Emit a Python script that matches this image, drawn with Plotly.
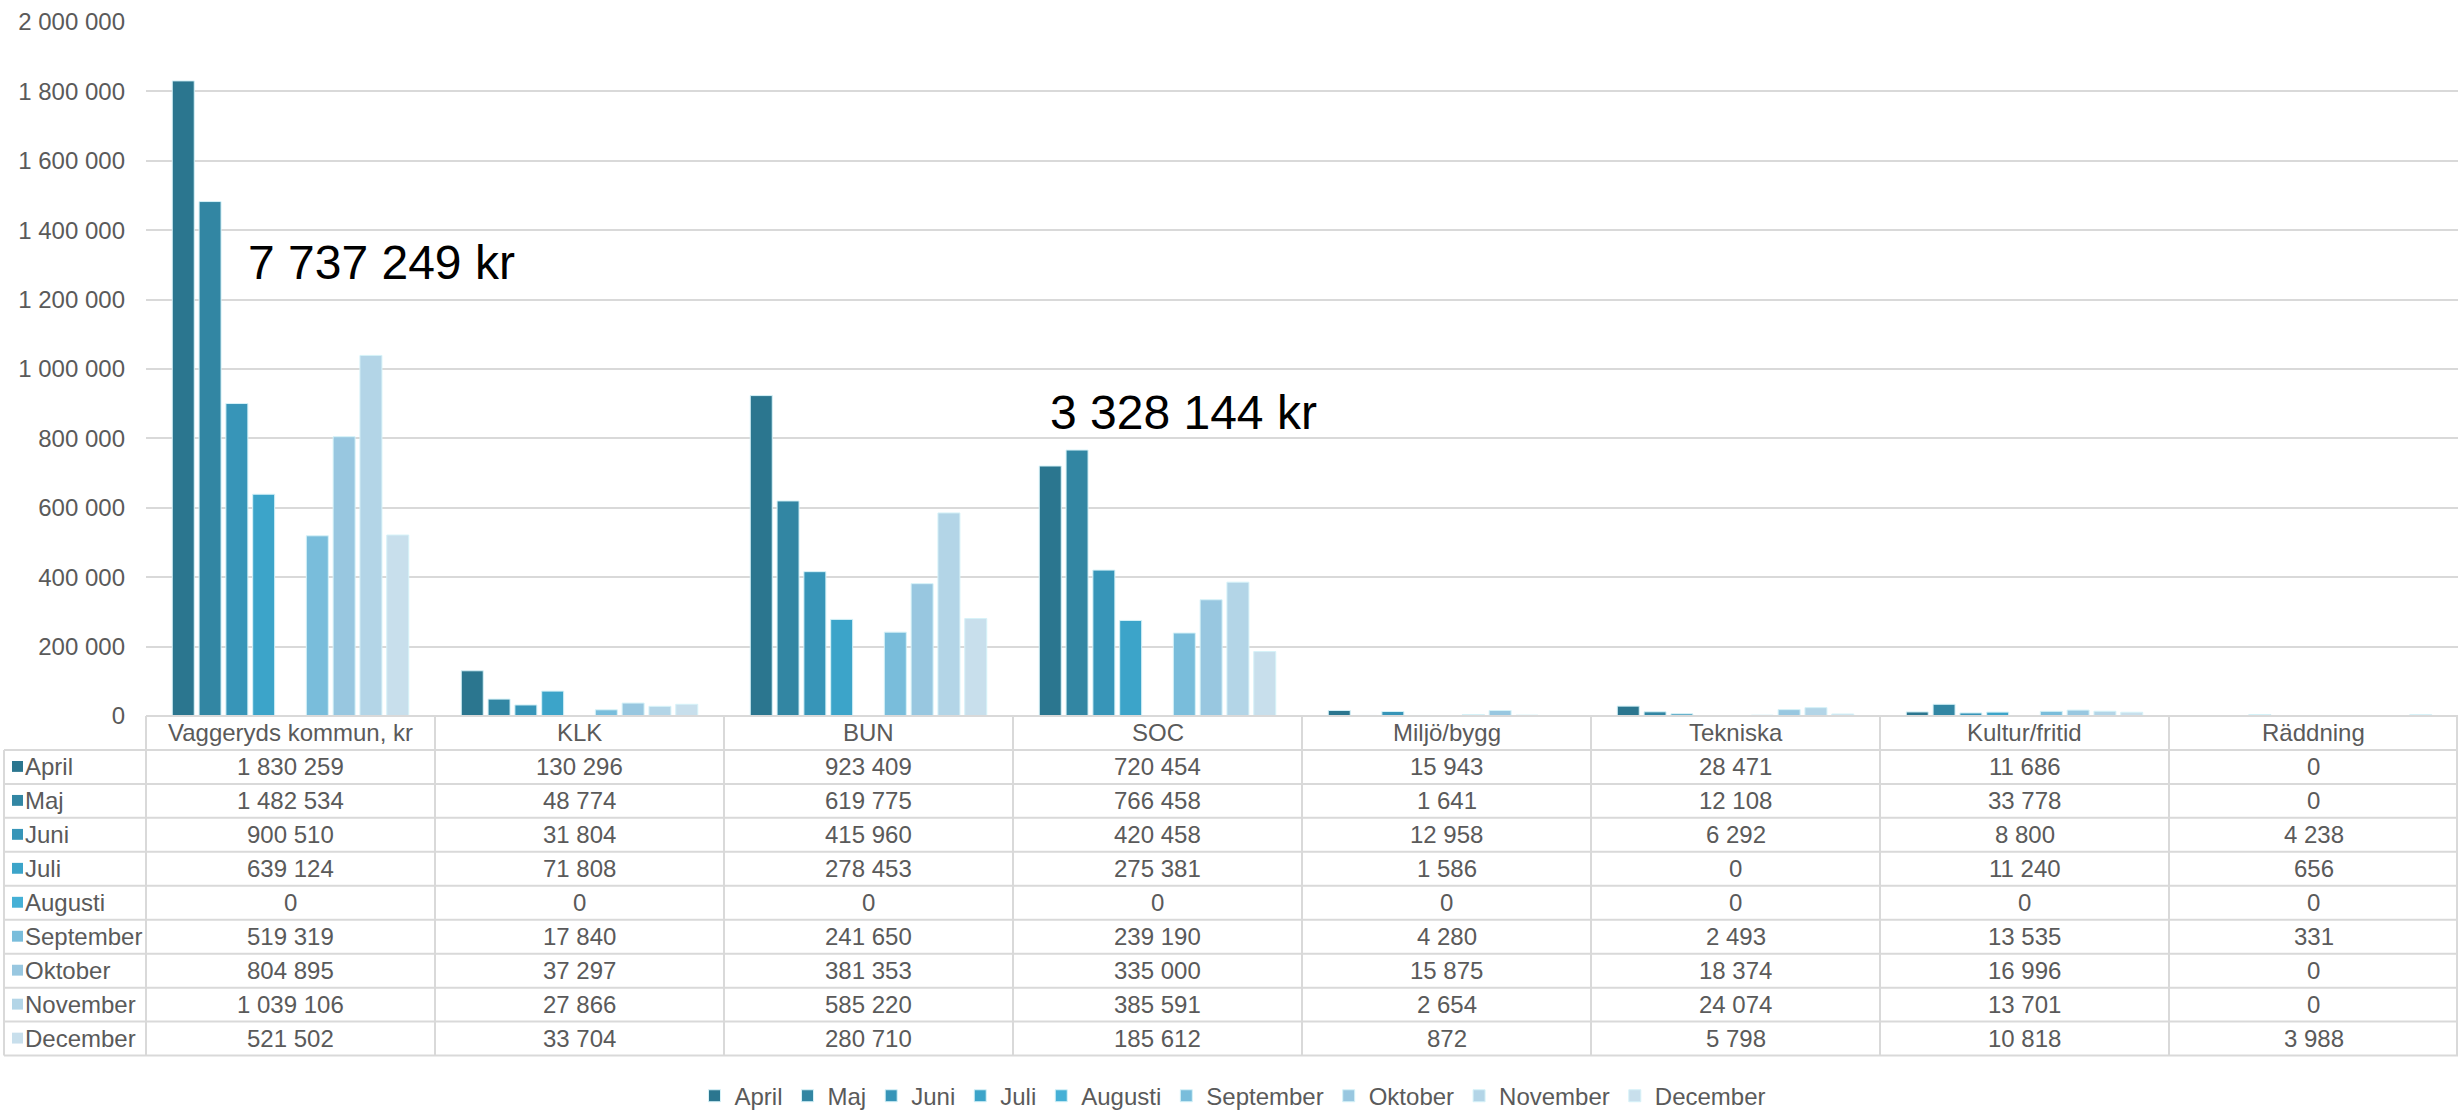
import plotly.graph_objects as go

categories = ["Vaggeryds kommun, kr", "KLK", "BUN", "SOC", "Miljö/bygg", "Tekniska", "Kultur/fritid", "Räddning"]
months = ["April", "Maj", "Juni", "Juli", "Augusti", "September", "Oktober", "November", "December"]

april = [1830259, 130296, 923409, 720454, 15943, 28471, 11686, 0]
maj = [1482534, 48774, 619775, 766458, 1641, 12108, 33778, 0]
juni = [900510, 31804, 415960, 420458, 12958, 6292, 8800, 4238]
juli = [639124, 71808, 278453, 275381, 1586, 0, 11240, 656]
augusti = [0, 0, 0, 0, 0, 0, 0, 0]
september = [519319, 17840, 241650, 239190, 4280, 2493, 13535, 331]
oktober = [804895, 37297, 381353, 335000, 15875, 18374, 16996, 0]
november = [1039106, 27866, 585220, 385591, 2654, 24074, 13701, 0]
december = [521502, 33704, 280710, 185612, 872, 5798, 10818, 3988]

series = [april, maj, juni, juli, augusti, september, oktober, november, december]
colors = ["#2B768F", "#3286A3", "#3795B8", "#3CA4C9", "#45B0D6",
          "#79BDDB", "#98C7E0", "#B3D5E7", "#C8DFEC"]

y_ticks = [0, 200000, 400000, 600000, 800000, 1000000, 1200000, 1400000, 1600000, 1800000, 2000000]


def fmt(v):
    return f"{v:,}".replace(",", " ")


W, H = 2458, 1119
L, T, ZERO = 146, 22, 723
PW = W - L
PH = ZERO - T
ROW_H = (1066 - 723) / 10.0
COL_W = PW / len(categories)
TXT = "#5A5A5A"
GRID = "#D9D9D9"
FONT = "Liberation Sans, Arial, sans-serif"
FS = 24


def px(x):
    return (x - L) / PW


def py(y):
    return (ZERO - y) / PH


fig = go.Figure()
for m, vals, c in zip(months, series, colors):
    fig.add_trace(go.Bar(name=m, x=categories, y=vals,
                         marker=dict(color=c, line=dict(color="#D6F2F8", width=1))))

shapes = []
annotations = []


def hline(y, x0, x1):
    shapes.append(dict(type="line", xref="paper", yref="paper", x0=px(x0), x1=px(x1), y0=py(y), y1=py(y),
                       line=dict(color=GRID, width=2)))


def vline(x, y0, y1):
    shapes.append(dict(type="line", xref="paper", yref="paper", x0=px(x), x1=px(x), y0=py(y0), y1=py(y1),
                       line=dict(color=GRID, width=2)))


bottom = ZERO + ROW_H * 10
hline(ZERO, L, W)
for r in range(1, 11):
    hline(ZERO + ROW_H * r, 4, W)
vline(4, ZERO + ROW_H, bottom)
for k in range(len(categories)):
    vline(L + COL_W * k, ZERO, bottom)
vline(W - 1, ZERO, bottom)

# header row
for k, cat in enumerate(categories):
    annotations.append(dict(xref="paper", yref="paper", x=px(L + COL_W * (k + 0.5)), y=py(ZERO + ROW_H * 0.5),
                            text=cat, showarrow=False, xanchor="center", yanchor="middle",
                            font=dict(size=FS, color=TXT, family=FONT)))

# data rows
for r, (m, vals, c) in enumerate(zip(months, series, colors)):
    yc = ZERO + ROW_H * (r + 1.5)
    shapes.append(dict(type="rect", xref="paper", yref="paper", x0=px(12), x1=px(23), y0=py(yc + 5), y1=py(yc - 6),
                       fillcolor=c, line=dict(width=0)))
    annotations.append(dict(xref="paper", yref="paper", x=px(23), y=py(yc), text=m, showarrow=False,
                            xanchor="left", yanchor="middle", font=dict(size=FS, color=TXT, family=FONT)))
    for k, v in enumerate(vals):
        annotations.append(dict(xref="paper", yref="paper", x=px(L + COL_W * (k + 0.5)), y=py(yc),
                                text=fmt(v), showarrow=False, xanchor="center", yanchor="middle",
                                font=dict(size=FS, color=TXT, family=FONT)))

# totals
total_vagg = sum(s[0] for s in series)
total_soc = sum(s[3] for s in series)
annotations.append(dict(xref="paper", yref="y", x=px(246), y=1306000, text=f"{fmt(total_vagg)} kr",
                        showarrow=False, xanchor="left", yanchor="middle",
                        font=dict(size=48, color="#000000", family=FONT)))
annotations.append(dict(xref="paper", yref="y", x=px(1048), y=874000, text=f"{fmt(total_soc)} kr",
                        showarrow=False, xanchor="left", yanchor="middle",
                        font=dict(size=48, color="#000000", family=FONT)))

fig.update_layout(
    width=W, height=H,
    margin=dict(l=L, r=0, t=T, b=H - ZERO),
    paper_bgcolor="white", plot_bgcolor="white",
    barmode="group", bargap=0.165, bargroupgap=0.18,
    font=dict(family=FONT, color=TXT, size=FS),
    xaxis=dict(range=[-0.5, len(categories) - 0.5], showticklabels=False, showgrid=False,
               zeroline=False, showline=False, ticks=""),
    yaxis=dict(range=[0, 2000000], tickvals=y_ticks, ticktext=[fmt(v) for v in y_ticks],
               showgrid=True, gridcolor=GRID, gridwidth=2, zeroline=False, showline=False,
               ticks="", ticklabelstandoff=20, tickfont=dict(size=FS, color=TXT, family=FONT)),
    legend=dict(orientation="h", x=px(1233), y=py(1107), xanchor="center", yanchor="middle",
                font=dict(size=FS, color=TXT, family=FONT), itemwidth=30, tracegroupgap=0,
                bgcolor="rgba(0,0,0,0)"),
    shapes=shapes, annotations=annotations,
)

fig.write_html("out.html", config={"displayModeBar": False},
               post_script="document.body.style.margin='0';document.body.style.overflow='hidden';")
